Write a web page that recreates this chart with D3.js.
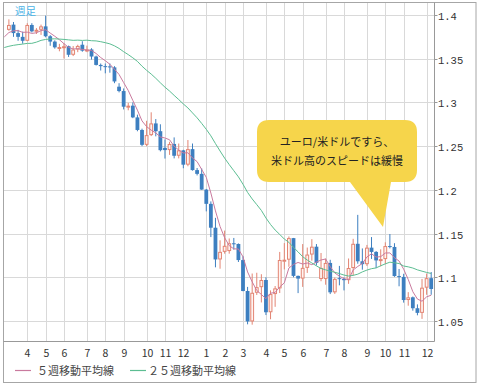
<!DOCTYPE html>
<html>
<head>
<meta charset="utf-8">
<script src="https://cdn.jsdelivr.net/npm/d3@7"></script>
<style>
  body { margin: 0; background: #fff; }
  text { font-family: "Noto Sans CJK JP", "Noto Sans", sans-serif; }
</style>
</head>
<body>
<div id="chart"></div>
<script>
const width = 477, height = 386;
const plot = {left: 3.5, top: 2.5, right: 434.5, bottom: 341.5};

// weekly candles, first one is the week of 2014-03-10
const firstWeek = "2014-03-10";
const open  = [1.3830,1.3890,1.3793,1.3750,1.3705,1.3886,1.3813,1.3831,1.3870,1.3757,1.3696,1.3630,1.3634,1.3643,1.3545,1.3605,1.3660,1.3592,1.3606,1.3525,1.3429,1.3415,1.3412,1.3401,1.3180,1.3130,1.2951,1.2963,1.2829,1.2685,1.2515,1.2626,1.2760,1.2671,1.2480,1.2455,1.2525,1.2390,1.2452,1.2288,1.2466,1.2226,1.2183,1.2003,1.1840,1.1567,1.1204,1.1291,1.1300,1.1389,1.1381,1.1197,1.0843,1.0495,1.0823,1.0887,1.0969,1.0600,1.0808,1.0873,1.1198,1.1201,1.1448,1.1016,1.0985,1.1108,1.1260,1.1350,1.0980,1.0980,1.1164,1.0828,1.0990,1.0981,1.0967,1.1106,1.1383,1.1183,1.1150,1.1339,1.1290,1.1193,1.1208,1.1357,1.1347,1.1014,1.1004,1.0740,1.0771,1.0646,1.0593,1.0881,1.0990];
const high  = [1.3950,1.3920,1.3830,1.3810,1.3906,1.3906,1.3850,1.3890,1.3993,1.3770,1.3710,1.3670,1.3677,1.3650,1.3645,1.3660,1.3700,1.3650,1.3620,1.3535,1.3445,1.3445,1.3445,1.3415,1.3220,1.3160,1.2995,1.3000,1.2860,1.2700,1.2790,1.2887,1.2810,1.2750,1.2577,1.2550,1.2600,1.2530,1.2458,1.2570,1.2530,1.2250,1.2245,1.2010,1.1868,1.1680,1.1423,1.1534,1.1444,1.1450,1.1387,1.1240,1.0890,1.1043,1.1052,1.1035,1.1000,1.0850,1.0900,1.1290,1.1391,1.1467,1.1450,1.1020,1.1380,1.1340,1.1436,1.1380,1.1278,1.1215,1.1200,1.0997,1.1130,1.1000,1.1215,1.1440,1.1714,1.1330,1.1370,1.1460,1.1300,1.1320,1.1400,1.1495,1.1390,1.1095,1.1040,1.0830,1.0780,1.0690,1.0981,1.1043,1.1060];
const low   = [1.3820,1.3750,1.3705,1.3672,1.3700,1.3800,1.3783,1.3772,1.3745,1.3648,1.3615,1.3585,1.3502,1.3520,1.3530,1.3575,1.3580,1.3575,1.3490,1.3422,1.3365,1.3333,1.3340,1.3220,1.3115,1.2920,1.2910,1.2820,1.2670,1.2500,1.2500,1.2615,1.2612,1.2440,1.2358,1.2400,1.2360,1.2360,1.2247,1.2270,1.2220,1.2165,1.2000,1.1754,1.1460,1.1114,1.1098,1.1270,1.1270,1.1316,1.1175,1.0840,1.0462,1.0458,1.0798,1.0712,1.0568,1.0520,1.0662,1.0820,1.1090,1.1120,1.1000,1.0819,1.0890,1.1050,1.1190,1.1135,1.0955,1.0915,1.0808,1.0810,1.0908,1.0850,1.0925,1.1020,1.1155,1.1087,1.1130,1.1210,1.1105,1.1125,1.1150,1.1330,1.1005,1.0897,1.0710,1.0675,1.0618,1.0565,1.0524,1.0800,1.0800];
const close = [1.3886,1.3793,1.3750,1.3705,1.3886,1.3813,1.3831,1.3870,1.3757,1.3696,1.3630,1.3634,1.3643,1.3545,1.3605,1.3646,1.3592,1.3606,1.3525,1.3429,1.3415,1.3412,1.3401,1.3240,1.3130,1.2951,1.2963,1.2829,1.2685,1.2515,1.2626,1.2760,1.2671,1.2454,1.2455,1.2525,1.2390,1.2452,1.2288,1.2466,1.2226,1.2183,1.2003,1.1840,1.1567,1.1204,1.1291,1.1360,1.1389,1.1381,1.1197,1.0843,1.0495,1.0823,1.0887,1.0969,1.0600,1.0808,1.0873,1.1198,1.1201,1.1448,1.1016,1.0985,1.1108,1.1260,1.1350,1.1165,1.1107,1.1164,1.0828,1.0982,1.0981,1.0967,1.1106,1.1383,1.1183,1.1150,1.1339,1.1290,1.1193,1.1208,1.1357,1.1347,1.1014,1.1004,1.0740,1.0771,1.0646,1.0593,1.0881,1.0990,1.0866];

// weekly closes before the first candle (2013-09-16 .. 2014-03-03), used by the moving averages
const priorCloses = [1.3525,1.3523,1.3556,1.3545,1.3686,1.3802,1.3485,1.3364,1.3497,1.3555,1.3591,1.3705,1.3741,1.3673,1.3741,1.3590,1.3670,1.3540,1.3677,1.3487,1.3636,1.3693,1.3741,1.3803,1.3874];

const monthTicks = ["2014-04-07","2014-05-05","2014-06-02","2014-07-07","2014-08-04","2014-09-01","2014-10-06","2014-11-03","2014-12-01","2015-01-05","2015-02-02","2015-03-02","2015-04-06","2015-05-04","2015-06-01","2015-07-06","2015-08-03","2015-09-07","2015-10-05","2015-11-02","2015-12-07"];
const priceTicks = [1.05, 1.1, 1.15, 1.2, 1.25, 1.3, 1.35, 1.4];
const maPeriods = [5, 25];
const legendLabels = ["５週移動平均線", "２５週移動平均線"];
const maColors = ["#c97a9e", "#5cbd92"];
const calloutLines = ["ユーロ/米ドルですら、", "米ドル高のスピードは緩慢"];

const parse = d3.utcParse("%Y-%m-%d");
const start = parse(firstWeek);
const weekOf = (i) => d3.utcDay.offset(start, 7 * i);

const candles = close.map((c, i) => ({date: weekOf(i), o: open[i], h: high[i], l: low[i], c: c}));

const allCloses = priorCloses.concat(close);
const offset = priorCloses.length;

const x = d3.scaleUtc()
    .domain([start, weekOf(close.length - 1)])
    .range([8.9, 431.2]);
const y = d3.scaleLinear()
    .domain([1.05, 1.4])
    .range([321, 15]);

const svg = d3.select("#chart").append("svg")
    .attr("width", width)
    .attr("height", height);

svg.append("defs").append("clipPath").attr("id", "plotclip")
    .append("rect")
    .attr("x", plot.left).attr("y", plot.top)
    .attr("width", plot.right - plot.left).attr("height", plot.bottom - plot.top);

// grid
const grid = svg.append("g");
grid.selectAll(".vg")
    .data(monthTicks)
    .enter().append("line")
    .attr("x1", (d) => Math.round(x(parse(d))) + 0.5)
    .attr("x2", (d) => Math.round(x(parse(d))) + 0.5)
    .attr("y1", plot.top).attr("y2", plot.bottom)
    .attr("stroke", "#d9d9d9");
grid.selectAll(".hg")
    .data(priceTicks)
    .enter().append("line")
    .attr("x1", plot.left).attr("x2", plot.right)
    .attr("y1", (d) => Math.round(y(d)) + 0.5)
    .attr("y2", (d) => Math.round(y(d)) + 0.5)
    .attr("stroke", "#d9d9d9");

// candles
const bodyW = 3.8;
const cg = svg.append("g").attr("clip-path", "url(#plotclip)");
const up = (d) => d.c >= d.o;

cg.selectAll(".wick")
    .data(candles)
    .enter().append("line")
    .attr("x1", (d) => x(d.date)).attr("x2", (d) => x(d.date))
    .attr("y1", (d) => y(d.h)).attr("y2", (d) => y(d.l))
    .attr("stroke", (d) => up(d) ? "#e38573" : "#3d7fc0")
    .attr("stroke-width", 1);

cg.selectAll(".body")
    .data(candles)
    .enter().append("rect")
    .attr("x", (d) => x(d.date) - bodyW / 2 + (up(d) ? 0.5 : 0))
    .attr("width", (d) => up(d) ? bodyW - 1 : bodyW)
    .attr("y", (d) => y(Math.max(d.o, d.c)) + (up(d) ? 0.5 : 0))
    .attr("height", (d) => Math.max(1, Math.abs(y(d.o) - y(d.c)) - (up(d) ? 1 : 0)))
    .attr("fill", (d) => up(d) ? "#fff4f1" : "#3d7fc0")
    .attr("stroke", (d) => up(d) ? "#e38573" : "none")
    .attr("stroke-width", 1);

// moving averages
maPeriods.forEach((n, k) => {
    const pts = [];
    for (let j = offset - 1; j < allCloses.length; j++) {
        pts.push({date: weekOf(j - offset), v: d3.mean(allCloses.slice(j - n + 1, j + 1))});
    }
    cg.append("path")
        .datum(pts)
        .attr("fill", "none")
        .attr("stroke", maColors[k])
        .attr("stroke-width", 1)
        .attr("d", d3.line().x((d) => x(d.date)).y((d) => y(d.v)));
});

// frames
svg.append("rect")
    .attr("x", 3.5).attr("y", 2.5)
    .attr("width", 472.5).attr("height", 380)
    .attr("fill", "none").attr("stroke", "#a6a6a6");
svg.append("line")
    .attr("x1", plot.right).attr("x2", plot.right)
    .attr("y1", plot.top).attr("y2", plot.bottom)
    .attr("stroke", "#999");
svg.append("line")
    .attr("x1", plot.left).attr("x2", plot.right)
    .attr("y1", plot.bottom).attr("y2", plot.bottom)
    .attr("stroke", "#999");

// price axis on the right
const ya = svg.append("g");
ya.selectAll(".tk")
    .data(priceTicks)
    .enter().append("line")
    .attr("x1", plot.right).attr("x2", plot.right + 3)
    .attr("y1", (d) => Math.round(y(d)) + 0.5)
    .attr("y2", (d) => Math.round(y(d)) + 0.5)
    .attr("stroke", "#999");
ya.selectAll("text")
    .data(priceTicks)
    .enter().append("text")
    .attr("x", plot.right + 3.5)
    .attr("y", (d) => y(d) + 5)
    .style("font-family", "'Liberation Mono', 'DejaVu Sans Mono', monospace")
    .style("font-size", "10.5px")
    .attr("fill", "#333")
    .text((d) => String(+d.toFixed(2)));

// month labels
svg.append("g").selectAll("text")
    .data(monthTicks)
    .enter().append("text")
    .attr("x", (d) => Math.round(x(parse(d))) + 0.5)
    .attr("y", 357)
    .attr("text-anchor", "middle")
    .style("font-size", "10.5px")
    .attr("fill", "#333")
    .text((d) => parse(d).getUTCMonth() + 1);

// legend
const legendX = [[15, 31, 37], [130, 146, 148]];
legendLabels.forEach((t, k) => {
    svg.append("line")
        .attr("x1", legendX[k][0]).attr("x2", legendX[k][1])
        .attr("y1", 370.5).attr("y2", 370.5)
        .attr("stroke", maColors[k]).attr("stroke-width", 1.2);
    svg.append("text")
        .attr("x", legendX[k][2]).attr("y", 375)
        .style("font-size", "11px")
        .attr("fill", "#444")
        .text(t);
});

// title
svg.append("text")
    .attr("x", 15).attr("y", 15)
    .style("font-size", "10.5px")
    .attr("fill", "#4ab2e6")
    .text("週足");

// callout
const bx0 = 257, bx1 = 417, by0 = 120, by1 = 182, r = 12;
const callout = d3.path();
callout.moveTo(bx0 + r, by0);
callout.lineTo(bx1 - r, by0);
callout.quadraticCurveTo(bx1, by0, bx1, by0 + r);
callout.lineTo(bx1, by1 - r);
callout.quadraticCurveTo(bx1, by1, bx1 - r, by1);
callout.lineTo(391, by1);
callout.lineTo(383, 227);
callout.lineTo(350, by1);
callout.lineTo(bx0 + r, by1);
callout.quadraticCurveTo(bx0, by1, bx0, by1 - r);
callout.lineTo(bx0, by0 + r);
callout.quadraticCurveTo(bx0, by0, bx0 + r, by0);
callout.closePath();
svg.append("path")
    .attr("d", callout.toString())
    .attr("fill", "#f6d54b");
svg.append("g").selectAll("text")
    .data(calloutLines)
    .enter().append("text")
    .attr("x", 337)
    .attr("y", (d, i) => 146 + i * 19)
    .attr("text-anchor", "middle")
    .style("font-size", "11px")
    .attr("fill", "#222")
    .text((d) => d);
</script>
</body>
</html>
